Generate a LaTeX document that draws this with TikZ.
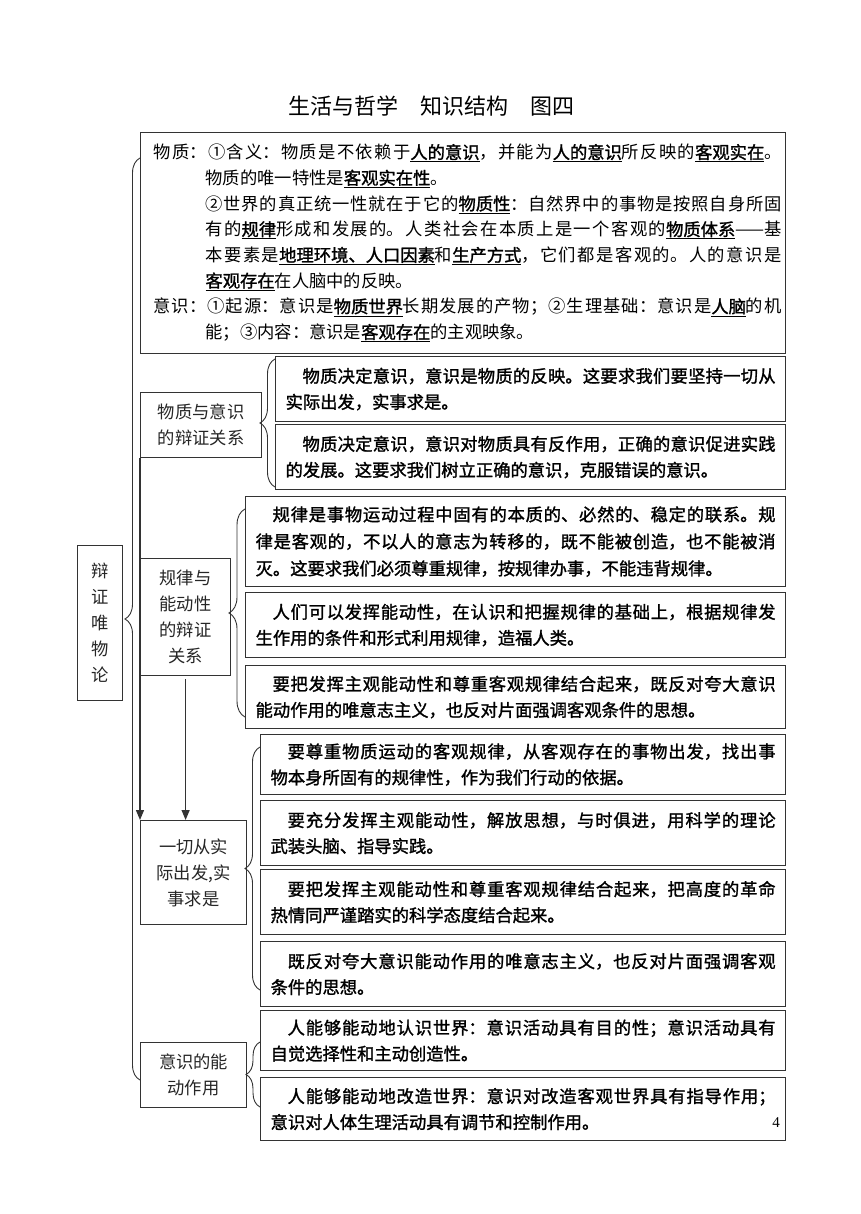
\documentclass[tikz,border=0pt]{standalone}
\usepackage{fontspec}
\setmainfont{Noto Sans CJK SC}
\newfontfamily\rbf[FakeBold=1.4]{Noto Sans CJK SC}
\newfontfamily\numfont{Liberation Serif}
\usetikzlibrary{arrows.meta,decorations.pathreplacing}
\XeTeXlinebreaklocale "zh"
\XeTeXlinebreakskip=0pt plus 2pt
\newcommand\kw[1]{\setbox0\hbox{\rbf #1}\rlap{\rule[-3.5pt]{\wd0}{0.9pt}}\box0}
\tikzset{
  frame/.style={draw=black!80, line width=1.2pt},
  rbox/.style={frame, anchor=north west, inner xsep=10pt, inner ysep=0pt, align=justify,
     font=\rbf\fontsize{17.3pt}{26pt}\selectfont},
  lbox/.style={frame, anchor=north west, inner sep=0pt, align=center,
     font=\fontsize{17.3pt}{26pt}\selectfont, text=black!85},
  brc/.style={draw=black!80, line width=0.9pt, decorate, decoration={brace, amplitude=#1}},
  brc/.default=15pt,
  arr/.style={draw=black!80, line width=1.2pt, -{Triangle[length=10pt,width=8pt]}},
}
\begin{document}
\begin{tikzpicture}[x=1pt,y=-1pt]
\useasboundingbox[fill=white] (0,0) rectangle (860,1214);
% title
\node[font=\fontsize{22pt}{22pt}\selectfont] (title) at (431,106) {生活与哲学　知识结构　图四};
% top box
\node[frame, anchor=north west, minimum width=645pt, minimum height=221pt, inner xsep=4pt, inner ysep=0pt,
  text width=637pt, align=justify, font=\fontsize{17.3pt}{25.7pt}\selectfont] (top) at (140,132) {%
\leftskip=9pt\parindent=0pt
\hangindent=3em\hangafter=1 物质：①含义：物质是不依赖于\kw{人的意识}，并能为\kw{人的意识}所反映的\kw{客观实在}。\linebreak 物质的唯一特性是\kw{客观实在性}。\par
\hangindent=3em\hangafter=0 ②世界的真正统一性就在于它的\kw{物质性}：自然界中的事物是按照自身所固\linebreak 有的\kw{规律}形成和发展的。人类社会在本质上是一个客观的\kw{物质体系}——基\linebreak 本要素是\kw{地理环境、人口因素}和\kw{生产方式}，它们都是客观的。人的意识是\linebreak \kw{客观存在}在人脑中的反映。\par
\hangindent=3em\hangafter=1 意识：①起源：意识是\kw{物质世界}长期发展的产物；②生理基础：意识是\kw{人脑}的机\linebreak 能；③内容：意识是\kw{客观存在}的主观映象。\par};
% left boxes
\node[lbox, minimum width=45pt, minimum height=155pt] (root) at (77,545) {辩\\证\\唯\\物\\论};
\node[lbox, minimum width=121pt, minimum height=65pt] (m1) at (140,392) {物质与意识\\的辩证关系};
\node[lbox, minimum width=90pt, minimum height=117pt] (m2) at (140,558) {规律与\\能动性\\的辩证\\关系};
\node[lbox, minimum width=106pt, minimum height=104pt] (m3) at (140,820) {一切从实\\际出发,实\\事求是};
\node[lbox, minimum width=106pt, minimum height=65pt] (m4) at (140,1042) {意识的能\\动作用};
% right boxes
\node[rbox, minimum width=510pt, minimum height=65pt, text width=490pt] (a1) at (275,356) {\leftskip=2pt\noindent\hspace*{17pt}物质决定意识，意识是物质的反映。这要求我们要坚持一切从\linebreak 实际出发，实事求是。};
\node[rbox, minimum width=510pt, minimum height=65pt, text width=490pt] (a2) at (275,424) {\leftskip=2pt\noindent\hspace*{17pt}物质决定意识，意识对物质具有反作用，正确的意识促进实践\linebreak 的发展。这要求我们树立正确的意识，克服错误的意识。};
\node[rbox, minimum width=540pt, minimum height=90pt, text width=520pt, font=\rbf\fontsize{17.3pt}{27pt}\selectfont] (b1) at (245,496) {\leftskip=2pt\noindent\hspace*{17pt}规律是事物运动过程中固有的本质的、必然的、稳定的联系。规\linebreak 律是客观的，不以人的意志为转移的，既不能被创造，也不能被消\linebreak 灭。这要求我们必须尊重规律，按规律办事，不能违背规律。};
\node[rbox, minimum width=540pt, minimum height=65pt, text width=520pt] (b2) at (245,592) {\leftskip=2pt\noindent\hspace*{17pt}人们可以发挥能动性，在认识和把握规律的基础上，根据规律发\linebreak 生作用的条件和形式利用规律，造福人类。};
\node[rbox, minimum width=540pt, minimum height=63pt, text width=520pt] (b3) at (245,665) {\leftskip=2pt\noindent\hspace*{17pt}要把发挥主观能动性和尊重客观规律结合起来，既反对夸大意识\linebreak 能动作用的唯意志主义，也反对片面强调客观条件的思想。};
\node[rbox, minimum width=525pt, minimum height=60pt, text width=505pt] (c1) at (260,734) {\leftskip=2pt\noindent\hspace*{17pt}要尊重物质运动的客观规律，从客观存在的事物出发，找出事\linebreak 物本身所固有的规律性，作为我们行动的依据。};
\node[rbox, minimum width=525pt, minimum height=65pt, text width=505pt] (c2) at (260,800) {\leftskip=2pt\noindent\hspace*{17pt}要充分发挥主观能动性，解放思想，与时俱进，用科学的理论\linebreak 武装头脑、指导实践。};
\node[rbox, minimum width=525pt, minimum height=65pt, text width=505pt] (c3) at (260,869) {\leftskip=2pt\noindent\hspace*{17pt}要把发挥主观能动性和尊重客观规律结合起来，把高度的革命\linebreak 热情同严谨踏实的科学态度结合起来。};
\node[rbox, minimum width=525pt, minimum height=65pt, text width=505pt] (c4) at (260,941) {\leftskip=2pt\noindent\hspace*{17pt}既反对夸大意识能动作用的唯意志主义，也反对片面强调客观\linebreak 条件的思想。};
\node[rbox, minimum width=525pt, minimum height=60pt, text width=505pt] (d1) at (260,1010) {\leftskip=2pt\noindent\hspace*{17pt}人能够能动地认识世界：意识活动具有目的性；意识活动具有\linebreak 自觉选择性和主动创造性。};
\node[rbox, minimum width=525pt, minimum height=63pt, text width=505pt] (d2) at (260,1077) {\leftskip=2pt\noindent\hspace*{17pt}人能够能动地改造世界：意识对改造客观世界具有指导作用；\linebreak 意识对人体生理活动具有调节和控制作用。};
\node[font=\numfont\fontsize{15pt}{15pt}\selectfont] (pg) at (776,1123) {4};
% brace end points
\coordinate (bigT) at (140,158);
\coordinate (bigB) at (140,1080);
\coordinate (aT) at (275,359);
\coordinate (aB) at (275,487);
\coordinate (bT) at (245,509);
\coordinate (bB) at (245,717);
\coordinate (cT) at (260,747);
\coordinate (cB) at (260,990);
\coordinate (dT) at (260,1042);
\coordinate (dB) at (260,1107);
% braces
\draw[brc=15pt] (bigB) -- (bigT);
\draw[brc=15pt] (aB) -- (aT);
\draw[brc=16pt] (bB) -- (bT);
\draw[brc=15pt] (cB) -- (cT);
\draw[brc=14pt] (dB) -- (dT);
% arrows
\draw[arr] (m1.south west) -- (m3.north west);
\draw[arr] ([yshift=-3pt]m2.south) -- (m2.south |- m3.north);
\end{tikzpicture}
\end{document}
